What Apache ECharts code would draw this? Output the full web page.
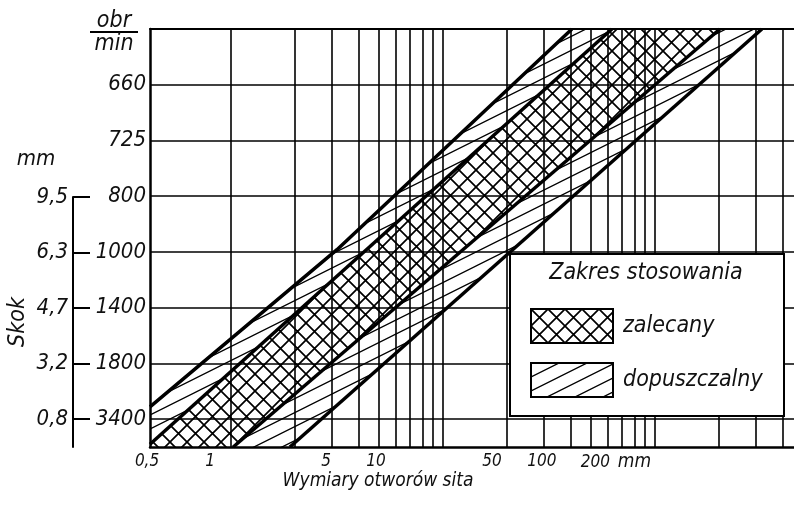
<!DOCTYPE html>
<html>
<head>
<meta charset="utf-8">
<script src="https://cdn.jsdelivr.net/npm/echarts@6/dist/echarts.min.js"></script>
<style>
html, body { margin: 0; padding: 0; background: #fff; }
#main { width: 794px; height: 510px; }
</style>
</head>
<body>
<div id="main"></div>
<script>
// x = wymiar otworu sita (mm), y = numer wiersza (0 = dół, 7.5 = góra)
var sizeLabels = [0.5, 1, 5, 10, 50, 100, 200];
var gridSizes = [1, 2, 3, 4, 5, 6, 7, 8, 9, 10, 20, 30, 40, 50, 60, 70, 80, 90, 100, 200, 300, 400];
var rpmLabels = ['3400', '1800', '1400', '1000', '800', '725', '660'];
var skokLabels = ['0,8', '3,2', '4,7', '6,3', '9,5'];
var rowPos = [0.5, 1.5, 2.5, 3.5, 4.5, 5.5, 6.5];
var xMin = 0.435, xMax = 3300;

// krawedzie pasm [mm, wiersz]
var edgeA = [[0.435, 0.72], [5.82, 3.54], [151.6, 7.5]];
var edgeB = [[0.435, 0.05], [264, 7.5]];
var edgeC = [[1.38, 0], [1181, 7.5]];
var edgeD = [[3.03, 0], [2115, 7.5]];

var FONT = "'Liberation Sans Narrow', 'DejaVu Sans Condensed', 'Liberation Sans', sans-serif";
var lg = Math.log10;

function makePattern(kind) {
    var c = document.createElement('canvas');
    var ctx, k;
    if (kind === 'cross') {
        var s = 17;
        c.width = s; c.height = s;
        ctx = c.getContext('2d');
        ctx.strokeStyle = '#000';
        ctx.lineWidth = 1.7;
        ctx.beginPath();
        for (k = -1; k <= 1; k++) {
            ctx.moveTo(k * s - 1, s + 1); ctx.lineTo(k * s + s + 1, -1);
            ctx.moveTo(k * s - 1, -1); ctx.lineTo(k * s + s + 1, s + 1);
        }
        ctx.stroke();
    } else {
        var w = 28, h = 14;
        c.width = w; c.height = h;
        ctx = c.getContext('2d');
        ctx.strokeStyle = '#000';
        ctx.lineWidth = 1.3;
        ctx.beginPath();
        for (k = -1; k <= 1; k++) {
            ctx.moveTo(-2, h + k * h + 1); ctx.lineTo(w + 2, k * h - 1);
        }
        ctx.stroke();
    }
    return { image: c, repeat: 'repeat' };
}
var patCross = makePattern('cross');
var patHatch = makePattern('hatch');

// wielokaty pasm
var zalecanyPolys = [
    edgeB.concat(edgeC.slice().reverse(), [[xMin, 0]])
];
var dopuszczalnyPolys = [
    edgeA.concat(edgeB.slice().reverse()),
    edgeC.concat(edgeD.slice().reverse())
];

function bandRender(polys, pat) {
    return function (params, api) {
        var cs = params.coordSys;
        var pts = polys[params.dataIndex].map(function (p) {
            return api.coord([lg(p[0]), p[1]]);
        });
        return {
            type: 'polygon',
            shape: { points: pts },
            style: { fill: pat, stroke: null },
            clipPath: { type: 'rect', shape: { x: cs.x, y: cs.y, width: cs.width, height: cs.height } }
        };
    };
}

function edgeSeries(edge) {
    return {
        type: 'line', xAxisIndex: 0, yAxisIndex: 0, z: 4,
        data: edge.map(function (p) { return [lg(p[0]), p[1]]; }),
        symbol: 'none', silent: true,
        lineStyle: { color: '#000', width: 3.5 }
    };
}

var txt = { color: '#111', fontFamily: FONT, fontStyle: 'italic' };
function font(size) { return 'italic ' + size + 'px ' + FONT; }

var myChart = echarts.init(document.getElementById('main'), null, { renderer: 'canvas' });
var option = {
    animation: false,
    backgroundColor: '#fff',
    grid: [
        { left: 150, right: 0, top: 29, bottom: 63 },
        { left: 73, width: 17, top: 197, bottom: 63 }
    ],
    xAxis: [
        {
            gridIndex: 0, type: 'value', position: 'bottom',
            min: lg(xMin), max: lg(xMax),
            axisLine: { onZero: false, lineStyle: { color: '#000', width: 2.5 } },
            axisTick: { show: false },
            splitLine: { show: false },
            axisLabel: {
                customValues: sizeLabels.map(lg),
                margin: 6,
                color: '#111', fontFamily: FONT, fontStyle: 'italic', fontSize: 17,
                formatter: function (v) {
                    var s = sizeLabels.filter(function (d) { return Math.abs(lg(d) - v) < 1e-6; })[0];
                    if (s === 0.5) return '{a|0,5}';
                    if (s === 200) return '{n|200}{u|mm}';
                    return String(s);
                },
                rich: {
                    a: echarts.util.extend({ padding: [0, 26, 0, 0], fontSize: 17 }, txt),
                    n: echarts.util.extend({ padding: [0, 0, 0, 48], fontSize: 17 }, txt),
                    u: echarts.util.extend({ padding: [0, 0, 0, 8], fontSize: 19 }, txt)
                }
            }
        },
        {
            gridIndex: 0, type: 'value', position: 'top',
            min: lg(0.415), max: lg(453),
            axisLine: { show: true, onZero: false, lineStyle: { color: '#000', width: 2 } },
            axisTick: { show: false, customValues: gridSizes.map(lg) },
            axisLabel: { show: false },
            splitLine: { show: true, lineStyle: { color: '#000', width: 1.6 } }
        },
        { gridIndex: 1, type: 'value', show: false, min: 0, max: 1 }
    ],
    yAxis: [
        {
            gridIndex: 0, type: 'value', min: 0, max: 7.5,
            axisLine: { show: true, onZero: false, lineStyle: { color: '#000', width: 2.5 } },
            axisTick: { show: false, customValues: rowPos },
            axisLabel: {
                customValues: rowPos, margin: 4,
                color: '#111', fontFamily: FONT, fontStyle: 'italic', fontSize: 22,
                formatter: function (v) { return rpmLabels[Math.round(v - 0.5)]; }
            },
            splitLine: { show: true, lineStyle: { color: '#000', width: 1.6 } }
        },
        {
            gridIndex: 1, type: 'value', min: 0, max: 4.5, position: 'left',
            axisLine: { show: true, onZero: false, lineStyle: { color: '#000', width: 2 } },
            axisTick: { show: true, inside: true, length: 17, customValues: rowPos.slice(0, 5), lineStyle: { color: '#000', width: 2 } },
            axisLabel: {
                customValues: rowPos.slice(0, 5), margin: 5,
                color: '#111', fontFamily: FONT, fontStyle: 'italic', fontSize: 22,
                formatter: function (v) { return skokLabels[Math.round(v - 0.5)]; }
            },
            splitLine: { show: false },
            name: 'Skok', nameLocation: 'middle', nameRotate: 90, nameGap: 43,
            nameTextStyle: { color: '#111', fontFamily: FONT, fontStyle: 'italic', fontSize: 23 }
        }
    ],
    legend: {
        data: ['zalecany', 'dopuszczalny'],
        orient: 'vertical', left: 525, top: 303,
        itemWidth: 82, itemHeight: 34, itemGap: 18,
        icon: 'rect', selectedMode: false, z: 60,
        itemStyle: { borderColor: '#000', borderWidth: 2 },
        textStyle: { color: '#111', fontFamily: FONT, fontStyle: 'italic', fontSize: 23, padding: [0, 0, 0, 5] }
    },
    graphic: [
        {
            type: 'rect', left: 509, top: 253, z: 50,
            shape: { width: 274, height: 162 },
            style: { fill: '#fff', stroke: '#000', lineWidth: 2 }
        },
        {
            type: 'text', x: 646, y: 273, z: 51,
            style: { text: 'Zakres stosowania', fill: '#111', font: font(23), textAlign: 'center', textVerticalAlign: 'middle' }
        },
        {
            type: 'text', x: 378, y: 481, z: 51,
            style: { text: 'Wymiary otworów sita', fill: '#111', font: font(19), textAlign: 'center', textVerticalAlign: 'middle' }
        },
        {
            type: 'text', x: 114, y: 21, z: 51,
            style: { text: 'obr', fill: '#111', font: font(23), textAlign: 'center', textVerticalAlign: 'middle' }
        },
        {
            type: 'line', z: 51,
            shape: { x1: 90, y1: 32, x2: 138, y2: 32 },
            style: { stroke: '#000', lineWidth: 2 }
        },
        {
            type: 'text', x: 114, y: 44, z: 51,
            style: { text: 'min', fill: '#111', font: font(23), textAlign: 'center', textVerticalAlign: 'middle' }
        },
        {
            type: 'text', x: 36, y: 159, z: 51,
            style: { text: 'mm', fill: '#111', font: font(22), textAlign: 'center', textVerticalAlign: 'middle' }
        }
    ],
    series: [
        {
            name: 'zalecany', type: 'custom', xAxisIndex: 0, yAxisIndex: 0, z: 2,
            itemStyle: { color: patCross },
            renderItem: bandRender(zalecanyPolys, patCross),
            data: zalecanyPolys.map(function (p, i) { return [i]; })
        },
        {
            name: 'dopuszczalny', type: 'custom', xAxisIndex: 0, yAxisIndex: 0, z: 2,
            itemStyle: { color: patHatch },
            renderItem: bandRender(dopuszczalnyPolys, patHatch),
            data: dopuszczalnyPolys.map(function (p, i) { return [i]; })
        },
        edgeSeries(edgeA),
        edgeSeries(edgeB),
        edgeSeries(edgeC),
        edgeSeries(edgeD)
    ]
};
myChart.setOption(option);
</script>
</body>
</html>
